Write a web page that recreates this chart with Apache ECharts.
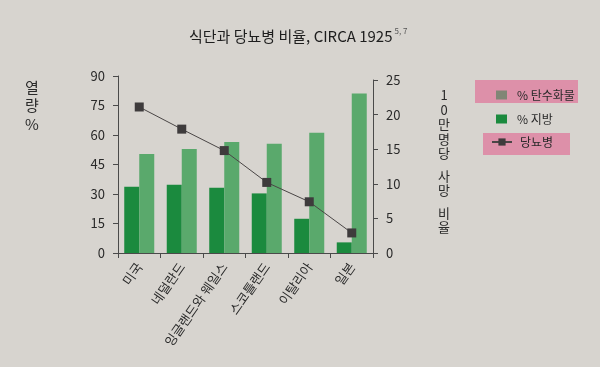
<!DOCTYPE html>
<html><head><meta charset="utf-8">
<script src="https://cdn.jsdelivr.net/npm/echarts@6/dist/echarts.min.js"></script>
<style>html,body{margin:0;padding:0;background:#d7d4cf}#c{width:600px;height:367px}</style>
</head><body><div id="c"></div>
<script>
const categories = ['미국', '네덜란드', '잉글랜드와 웨일스', '스코틀랜드', '이탈리아', '일본'];
const fatPct = [33.7, 34.7, 33.2, 30.3, 17.4, 5.4];
const carbPct = [50.3, 52.9, 56.4, 55.6, 61.2, 81.1];
const diabetesRate = [21.1, 17.9, 14.8, 10.2, 7.4, 2.9];
const leftTicks = [0, 15, 30, 45, 60, 75, 90];
const rightTicks = [0, 5, 10, 15, 20, 25];

const FONT = '"Noto Sans CJK KR", "Noto Sans", sans-serif';
const TXT = '#2a2a2a';
const AX = '#4a4a4a';
const FAT = '#1b8a3e';
const CARB = '#5aa96c';
const DIA = '#3e3b3c';
const PINK = '#dd90a9';

const chart = echarts.init(document.getElementById('c'), null, {renderer: 'canvas'});

const yCommon = {
  type: 'value',
  axisLine: {show: true, lineStyle: {color: AX, width: 1}},
  axisTick: {show: true, length: 5, lineStyle: {color: AX}},
  splitLine: {show: false},
  axisLabel: {color: TXT, fontSize: 13, fontFamily: FONT, margin: 13}
};

chart.setOption({
  backgroundColor: '#d7d4cf',
  animation: false,
  textStyle: {fontFamily: FONT},
  title: {
    text: '{a|식단과 당뇨병 비율, CIRCA 1925}{s|5, 7}',
    left: 184, top: 22,
    textStyle: {
      fontWeight: 'normal',
      rich: {
        a: {fontSize: 15, color: '#1e1e1e', fontFamily: FONT, fontWeight: 'normal'},
        s: {fontSize: 8, color: '#555', fontFamily: FONT, fontWeight: 'normal', verticalAlign: 'top', padding: [0, 0, 10, 2]}
      }
    }
  },
  legend: [
    {
      data: [
        {name: '% 탄수화물', itemStyle: {color: '#808676'}},
        {name: '% 지방', itemStyle: {color: FAT}}
      ],
      icon: 'rect',
      orient: 'vertical', left: 491, top: 84, itemGap: 12,
      itemWidth: 11, itemHeight: 9,
      textStyle: {color: TXT, fontSize: 12, fontFamily: FONT, padding: [0, 0, 0, 5]}
    },
    {
      data: ['당뇨병'],
      orient: 'vertical', left: 486, top: 131,
      itemWidth: 20, itemHeight: 9,
      textStyle: {color: TXT, fontSize: 12, fontFamily: FONT, padding: [0, 0, 0, 3]}
    }
  ],
  grid: [
    {left: 118, right: 227, top: 76, bottom: 114, containLabel: false},
    {left: 118, right: 227, top: 80, bottom: 114, containLabel: false}
  ],
  xAxis: [
    {
      type: 'category', gridIndex: 0, data: categories,
      axisLine: {lineStyle: {color: AX}},
      axisTick: {show: true, length: 5, lineStyle: {color: AX}},
      axisLabel: {rotate: 55, color: TXT, fontSize: 13, fontFamily: FONT, margin: 11, interval: 0}
    },
    {type: 'category', gridIndex: 1, data: categories, show: false}
  ],
  yAxis: [
    Object.assign({}, yCommon, {gridIndex: 0, position: 'left',
      min: leftTicks[0], max: leftTicks[leftTicks.length - 1], interval: leftTicks[1] - leftTicks[0]}),
    Object.assign({}, yCommon, {gridIndex: 1, position: 'right',
      min: rightTicks[0], max: rightTicks[rightTicks.length - 1], interval: rightTicks[1] - rightTicks[0]})
  ],
  series: [
    {name: '% 지방', type: 'bar', xAxisIndex: 0, yAxisIndex: 0, data: fatPct,
      barWidth: 15, barGap: '0%', itemStyle: {color: FAT}},
    {name: '% 탄수화물', type: 'bar', xAxisIndex: 0, yAxisIndex: 0, data: carbPct,
      barWidth: 15, barGap: '0%', itemStyle: {color: CARB}},
    {name: '당뇨병', type: 'line', xAxisIndex: 1, yAxisIndex: 1, data: diabetesRate,
      symbol: 'rect', symbolSize: 9, z: 5,
      lineStyle: {color: '#4a4646', width: 1},
      itemStyle: {color: DIA}}
  ],
  graphic: [
    {type: 'rect', z: -1, shape: {x: 475, y: 80, width: 103, height: 23}, style: {fill: PINK}},
    {type: 'rect', z: -1, shape: {x: 483, y: 133, width: 87, height: 22}, style: {fill: PINK}},
    {type: 'text', x: 32, y: 78, style: {text: '열\n량\n%', font: '15px ' + FONT, fill: TXT,
      textAlign: 'center', lineHeight: 18.5}},
    {type: 'text', x: 444, y: 88, style: {
      text: '{c|1}\n{c|0}\n{c|만}\n{c|명}\n{c|당}\n{s| }\n{c|사}\n{c|망}\n{s| }\n{c|비}\n{c|율}',
      textAlign: 'center', fill: TXT,
      rich: {c: {fontSize: 13, lineHeight: 14.5, fontFamily: FONT, fill: TXT, align: 'center'},
             s: {fontSize: 4, lineHeight: 8, fontFamily: FONT}}
    }}
  ]
});
</script>
</body></html>
